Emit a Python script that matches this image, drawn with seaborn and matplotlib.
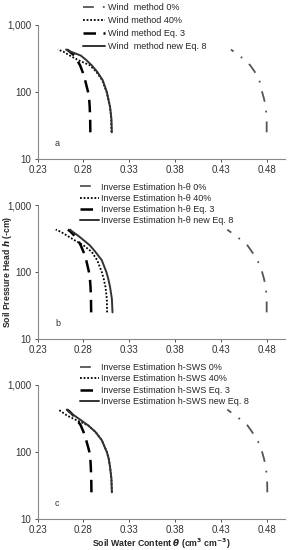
import numpy as np
import pandas as pd
import matplotlib
matplotlib.use('Agg')
import matplotlib.pyplot as plt
from matplotlib.ticker import FixedLocator, NullLocator
import seaborn as sns

# pressure head values (-cm) shared by all curves
h = [25, 40, 60, 80, 100, 150, 200, 250, 300, 350, 400, 430]

# panel a - wind method
a_0 = [0.480, 0.480, 0.479, 0.477, 0.475, 0.472, 0.467, 0.462, 0.456, 0.450, 0.444, 0.441]
a_40 = [0.3105, 0.3103, 0.309, 0.307, 0.3052, 0.3005, 0.294, 0.287, 0.274, 0.265, 0.258, 0.252]
a_eq3 = [0.2875, 0.2873, 0.2868, 0.2862, 0.285, 0.2818, 0.279, 0.2763, 0.273, 0.270, 0.265, 0.262]
a_eq8 = [0.311, 0.3105, 0.309, 0.307, 0.3055, 0.301, 0.295, 0.289, 0.283, 0.277, 0.266, 0.261]

# panel b - inverse estimation h-theta
b_0 = [0.480, 0.480, 0.479, 0.477, 0.475, 0.470, 0.464, 0.459, 0.452, 0.446, 0.440, 0.437]
b_40 = [0.3058, 0.3055, 0.304, 0.302, 0.300, 0.295, 0.289, 0.280, 0.270, 0.262, 0.255, 0.2497]
b_eq3 = [0.2884, 0.2882, 0.2877, 0.287, 0.286, 0.283, 0.280, 0.277, 0.274, 0.270, 0.266, 0.263]
b_eq8 = [0.3117, 0.311, 0.309, 0.307, 0.305, 0.300, 0.293, 0.287, 0.280, 0.274, 0.268, 0.2654]

# panel c - inverse estimation h-SWS
c_0 = [0.4807, 0.4805, 0.479, 0.477, 0.475, 0.470, 0.464, 0.459, 0.452, 0.446, 0.440, 0.437]
c_40 = [0.311, 0.3105, 0.309, 0.3075, 0.3055, 0.300, 0.293, 0.285, 0.272, 0.262, 0.256, 0.2526]
c_eq3 = [0.2887, 0.2885, 0.288, 0.2875, 0.2865, 0.283, 0.280, 0.277, 0.273, 0.269, 0.265, 0.262]
c_eq8 = [0.311, 0.3105, 0.309, 0.3075, 0.3055, 0.300, 0.293, 0.285, 0.277, 0.270, 0.264, 0.2618]

labels_a = ['Wind  method 0%', 'Wind method 40%', 'Wind method Eq. 3', 'Wind  method new Eq. 8']
labels_b = ['Inverse Estimation h-θ 0%', 'Inverse Estimation h-θ 40%',
            'Inverse Estimation h-θ Eq. 3', 'Inverse Estimation h-θ new Eq. 8']
labels_c = ['Inverse Estimation h-SWS 0%', 'Inverse Estimation h-SWS 40%',
            'Inverse Estimation h-SWS Eq. 3', 'Inverse Estimation h-SWS new Eq. 8']

xticks = [0.23, 0.28, 0.33, 0.38, 0.43, 0.48]

sns.set_style('white')
plt.rcParams['font.family'] = ['Liberation Sans', 'DejaVu Sans']

fig = plt.figure(figsize=(2.92, 5.5), dpi=100)

styles = [
    dict(color='#555555', lw=1.3, linestyle=(0, (6, 5, 1, 5))),
    dict(color='black', lw=1.3, linestyle=(0, (1, 1))),
    dict(color='black', lw=1.8, linestyle=(0, (5, 3))),
    dict(color='#333333', lw=1.4, linestyle='-'),
]

# series, labels, letter, axes bottom, legend anchor, label spacing, handle length
panels = [
    ([a_0, a_40, a_eq3, a_eq8], labels_a, 'a', 0.711, (0.285, 0.994), 0.42, 2.45),
    ([b_0, b_40, b_eq3, b_eq8], labels_b, 'b', 0.3836, (0.274, 0.668), 0.25, 2.1),
    ([c_0, c_40, c_eq3, c_eq8], labels_c, 'c', 0.0564, (0.274, 0.340), 0.27, 2.1),
]

for i, (series, labels, letter, bottom, leg_pos, lsp, hl) in enumerate(panels):
    ax = fig.add_axes([0.129, bottom, 0.847, 0.2436])
    for vals, lab, st in zip(series, labels, styles):
        df = pd.DataFrame({'theta': vals, 'h': h})
        sns.lineplot(data=df, x='theta', y='h', sort=False, estimator=None,
                     ax=ax, label=lab, **st)
    ax.set_yscale('log')
    ax.set_ylim(10, 1000)
    ax.set_xlim(0.23, 0.50)
    ax.yaxis.set_major_locator(FixedLocator([10, 100, 1000]))
    ax.yaxis.set_minor_locator(NullLocator())
    ax.set_yticklabels(['10', '100', '1,000'])
    ax.set_xticks(xticks)
    ax.set_xticklabels([f'{t:.2f}' for t in xticks])
    ax.tick_params(labelsize=7, colors='#333333', length=2.5, width=0.6,
                   direction='out', left=True, bottom=True, pad=2)
    for side in ['top', 'right']:
        ax.spines[side].set_visible(False)
    for side in ['left', 'bottom']:
        ax.spines[side].set_color('#888888')
        ax.spines[side].set_linewidth(0.8)
    ax.set_xlabel('')
    ax.set_ylabel('')
    ax.text(0.07, 0.1, letter, transform=ax.transAxes, fontsize=6.5, color='#333333')
    ax.legend(loc='upper left', bbox_to_anchor=leg_pos, bbox_transform=fig.transFigure,
              frameon=False, fontsize=6.5, handlelength=hl, handletextpad=0.25,
              labelspacing=lsp, borderpad=0, borderaxespad=0)
    if i == 1:
        ax.set_ylabel(r'Soil Pressure Head $\mathbfit{h}$ (-cm)', fontsize=6.2,
                      fontweight='bold')
        ax.yaxis.set_label_coords(-0.095, 0.5)
    if i == 2:
        ax.set_xlabel(r'Soil Water Content $\mathbfit{\theta}$ (cm$^{\mathbf{3}}$ cm$^{\mathbf{-3}}$)',
                      fontsize=6.3, fontweight='bold')
        ax.xaxis.set_label_coords(0.5, -0.13)

fig.savefig('out.png', dpi=100)
